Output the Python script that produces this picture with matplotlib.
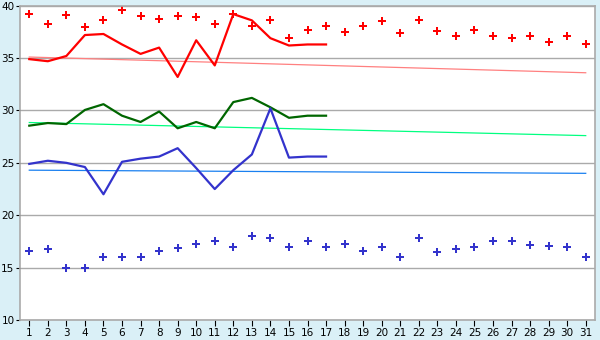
import matplotlib.pyplot as plt

# jours du mois
days = list(range(1, 32))

# points : maxima et minima du mois
max_points = [39.2, 38.3, 39.1, 38.0, 38.6, 39.6, 39.0, 38.7, 39.0, 38.9,
              38.3, 39.2, 38.1, 38.6, 36.9, 37.7, 38.1, 37.5, 38.1, 38.5,
              37.4, 38.6, 37.6, 37.1, 37.7, 37.1, 36.9, 37.1, 36.5, 37.1, 36.3]
min_points = [16.6, 16.8, 15.0, 15.0, 16.0, 16.0, 16.0, 16.6, 16.9, 17.3,
              17.5, 17.0, 18.0, 17.8, 17.0, 17.5, 17.0, 17.3, 16.6, 17.0,
              16.0, 17.8, 16.5, 16.8, 17.0, 17.5, 17.5, 17.2, 17.1, 17.0, 16.0]

# courbes (17 premiers jours)
line_days = list(range(1, 18))
red_line = [34.9, 34.7, 35.2, 37.2, 37.3, 36.3, 35.4, 36.0, 33.2, 36.7,
            34.3, 39.2, 38.6, 36.9, 36.2, 36.3, 36.3]
green_line = [28.55, 28.8, 28.7, 30.05, 30.6, 29.5, 28.9, 29.9, 28.3, 28.9,
              28.3, 30.8, 31.2, 30.3, 29.3, 29.5, 29.5]
blue_line = [24.9, 25.2, 25.0, 24.6, 22.0, 25.1, 25.4, 25.6, 26.4, 24.5,
             22.5, 24.3, 25.8, 30.2, 25.5, 25.6, 25.6]

# tendances (jour 1 -> jour 31)
trend_days = [1, 31]
red_trend = [35.1, 33.6]
green_trend = [28.85, 27.6]
blue_trend = [24.3, 24.0]

bg = "#daf0f7"
grey = "#aaaaaa"

fig = plt.figure(figsize=(6, 3.4), dpi=100, facecolor=bg)
ax = fig.add_axes([20 / 600, 20 / 340, 575 / 600, 314.3 / 340])
ax.set_facecolor("white")

ax.plot(trend_days, red_trend, color="#ff8080", lw=0.9)
ax.plot(trend_days, green_trend, color="#00ff80", lw=0.9)
ax.plot(trend_days, blue_trend, color="#1a80f0", lw=0.9)

ax.plot(line_days, red_line, color="#ff0000", lw=1.6)
ax.plot(line_days, green_line, color="#006600", lw=1.6)
ax.plot(line_days, blue_line, color="#3333cc", lw=1.6)

ax.plot(days, max_points, ls="none", marker="P", ms=5.5, color="#ff0000", mew=0)
ax.plot(days, min_points, ls="none", marker="P", ms=5.5, color="#3333cc", mew=0)

ax.set_xlim(0.5, 31.5)
ax.set_ylim(10, 40)
ax.set_xticks(days)
ax.set_yticks(range(10, 41, 5))
ax.grid(axis="y", color=grey, lw=1)
ax.set_axisbelow(True)
for s in ax.spines.values():
    s.set_color(grey)
    s.set_linewidth(1.2)
ax.tick_params(axis="both", labelsize=7.5, colors="black", length=4, width=0.8, pad=2)
ax.tick_params(axis="y", length=3, pad=1)

fig.savefig("out.png", dpi=100, facecolor=bg)
